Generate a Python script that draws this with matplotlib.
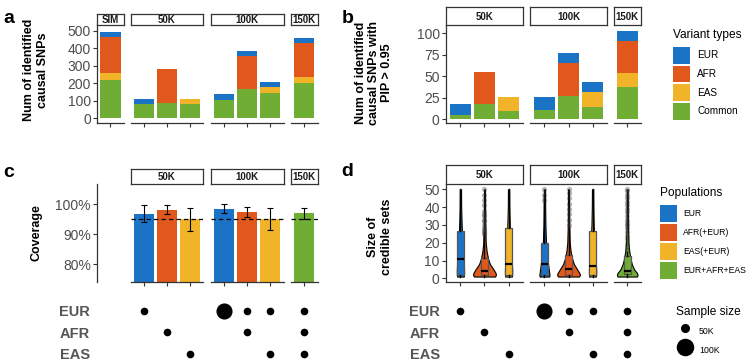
import matplotlib
matplotlib.use("Agg")
import matplotlib.pyplot as plt
from matplotlib.patches import Patch
from matplotlib.lines import Line2D
import numpy as np

plt.rcParams['font.family'] = ['Liberation Sans', 'DejaVu Sans']

W, H = 755, 362
fig = plt.figure(figsize=(W / 100, H / 100), dpi=100)

COL = {'EUR': '#1b73c6', 'AFR': '#e0581c', 'EAS': '#f1b428', 'ALL': '#70ad34'}
TXT = '#4d4d4d'
LINE = '#333333'

# ---- data ----
# a: identified causal SNPs, stacked by variant type
a_common = {'SIM': [220], '50K': [80, 90, 80], '100K': [105, 165, 145], '150K': [200]}
a_eas = {'SIM': [40], '50K': [0, 0, 30], '100K': [0, 0, 32], '150K': [35]}
a_afr = {'SIM': [205], '50K': [0, 190, 0], '100K': [0, 190, 0], '150K': [195]}
a_eur = {'SIM': [30], '50K': [30, 0, 0], '100K': [35, 30, 30], '150K': [30]}

# b: identified causal SNPs with PIP > 0.95
b_common = {'50K': [5, 18, 9], '100K': [10, 27, 14], '150K': [37]}
b_eas = {'50K': [0, 0, 17], '100K': [0, 0, 17], '150K': [17]}
b_afr = {'50K': [0, 37, 0], '100K': [0, 38, 0], '150K': [37]}
b_eur = {'50K': [13, 0, 0], '100K': [16, 12, 12], '150K': [12]}

# c: coverage (%)
pops = {'50K': ['EUR', 'AFR', 'EAS'], '100K': ['EUR', 'AFR', 'EAS'], '150K': ['ALL']}
cov_mean = {'50K': [96.6, 98.0, 95.0], '100K': [98.3, 97.4, 95.0], '150K': [97.1]}
cov_lo = {'50K': [93.9, 96.6, 91.1], '100K': [97.1, 95.8, 91.3], '150K': [95.0]}
cov_hi = {'50K': [99.7, 99.8, 98.6], '100K': [100.0, 99.1, 98.6], '150K': [98.6]}

# d: size of credible sets
cs_q1 = {'50K': [2, 2, 2], '100K': [2, 2, 2], '150K': [2.5]}
cs_med = {'50K': [11, 4, 8], '100K': [8, 5, 7], '150K': [4]}
cs_q3 = {'50K': [26.5, 11.5, 28], '100K': [20, 13, 26.5], '150K': [12.5]}
cs_whi = {'50K': [50, 26, 50], '100K': [47, 29, 50], '150K': [15]}
cs_out = {'50K': [[], [25, 26, 27, 28, 30, 32, 33, 35, 36, 38, 41, 44, 47, 50], []],
          '100K': [[44, 47, 50], [30, 33, 36, 39, 42, 45, 48, 50], []],
          '150K': [[16, 18, 20, 22, 24, 26, 28, 30, 31, 33, 35, 37, 39, 41, 43, 45, 47, 49, 50]]}
vio_y = [1, 2, 3, 5, 8, 11, 15, 20, 30, 40, 50]
vio_w = {'50K': [[0.28, 0.30, 0.30, 0.30, 0.28, 0.26, 0.22, 0.17, 0.10, 0.06, 0.05],
                 [0.88, 0.95, 0.92, 0.75, 0.45, 0.30, 0.18, 0.10, 0.06, 0.05, 0.04],
                 [0.28, 0.30, 0.30, 0.30, 0.28, 0.26, 0.22, 0.17, 0.10, 0.06, 0.05]],
         '100K': [[0.40, 0.42, 0.40, 0.36, 0.30, 0.25, 0.19, 0.13, 0.08, 0.06, 0.05],
                  [0.88, 0.95, 0.90, 0.72, 0.45, 0.30, 0.18, 0.10, 0.06, 0.05, 0.04],
                  [0.28, 0.30, 0.30, 0.30, 0.28, 0.25, 0.22, 0.16, 0.09, 0.06, 0.05]],
         '150K': [[0.85, 0.90, 0.85, 0.60, 0.40, 0.28, 0.18, 0.10, 0.06, 0.05, 0.04]]}

# sample size (K) of each population in each analysis
ss_eur = {'50K': [50, 0, 0], '100K': [100, 50, 50], '150K': [50]}
ss_afr = {'50K': [0, 50, 0], '100K': [0, 50, 0], '150K': [50]}
ss_eas = {'50K': [0, 0, 50], '100K': [0, 0, 50], '150K': [50]}
dot_ms = {50: 5.5, 100: 11.6}


def px_axes(l, r, t, b):
    return fig.add_axes([l / W, 1 - b / H, (r - l) / W, (b - t) / H])


def strip(l, r, t, b, label):
    s = px_axes(l, r, t, b)
    s.set_xticks([])
    s.set_yticks([])
    for sp in s.spines.values():
        sp.set_linewidth(0.9)
        sp.set_color(LINE)
    s.text(0.5, 0.45, label, ha='center', va='center', fontsize=7,
           fontweight='bold', color='#1a1a1a', transform=s.transAxes)


def style(ax, n, left, bottom=True):
    ax.set_xlim(0.4, n + 0.6)
    ax.set_xticks(np.arange(1, n + 1))
    ax.set_xticklabels([])
    ax.spines['top'].set_visible(False)
    ax.spines['right'].set_visible(False)
    ax.spines['left'].set_visible(left)
    ax.spines['bottom'].set_visible(bottom)
    for s in ['left', 'bottom']:
        ax.spines[s].set_color(LINE)
        ax.spines[s].set_linewidth(0.9)
    ax.tick_params(axis='x', length=3, width=0.8, color=LINE, bottom=bottom)
    ax.tick_params(axis='y', length=3, width=0.8, color=LINE, labelsize=10,
                   labelcolor=TXT, pad=1.5, left=left, labelleft=left)
    ax.patch.set_alpha(0)


def stacked(ax, f, series):
    n = len(series[0][0][f])
    xs = np.arange(1, n + 1)
    bottom = np.zeros(n)
    for vals, c in series:
        v = np.array(vals[f], dtype=float)
        ax.bar(xs, v, 0.9, bottom=bottom, color=c, linewidth=0)
        bottom += v
    return n


# ---- panel a ----
a_x = {'SIM': (97, 124), '50K': (130.5, 203.5), '100K': (210.5, 283.5), '150K': (290.5, 317.5)}
for i, f in enumerate(['SIM', '50K', '100K', '150K']):
    l, r = a_x[f]
    ax = px_axes(l, r, 25, 122.7)
    n = stacked(ax, f, [(a_common, COL['ALL']), (a_eas, COL['EAS']),
                        (a_afr, COL['AFR']), (a_eur, COL['EUR'])])
    ax.set_ylim(-25.1, 532.5)
    ax.set_yticks([0, 100, 200, 300, 400, 500])
    style(ax, n, i == 0)
    strip(l, r, 14, 25, f)

# ---- panel b ----
b_x = {'50K': (446, 523), '100K': (530, 607), '150K': (613.5, 641)}
for i, f in enumerate(['50K', '100K', '150K']):
    l, r = b_x[f]
    ax = px_axes(l, r, 25, 122.7)
    n = stacked(ax, f, [(b_common, COL['ALL']), (b_eas, COL['EAS']),
                        (b_afr, COL['AFR']), (b_eur, COL['EUR'])])
    ax.set_ylim(-4.3, 109.7)
    ax.set_yticks([0, 25, 50, 75, 100])
    style(ax, n, i == 0)
    strip(l, r, 7, 25, f)

# ---- panel c ----
c_x = {'50K': (130.5, 203.5), '100K': (210.5, 283.5), '150K': (290.5, 317.5)}
ax = px_axes(97, 124, 184, 282.3)
ax.set_ylim(73.9, 106.7)
ax.set_yticks([80, 90, 100])
ax.set_yticklabels(['80%', '90%', '100%'])
style(ax, 1, True, bottom=False)
for f in ['50K', '100K', '150K']:
    l, r = c_x[f]
    ax = px_axes(l, r, 184, 282.3)
    n = len(pops[f])
    xs = np.arange(1, n + 1)
    m = np.array(cov_mean[f])
    ax.bar(xs, m, 0.9, color=[COL[p] for p in pops[f]], linewidth=0)
    ax.axhline(95, color='black', lw=0.9, ls=(0, (3.5, 2.5)))
    ax.errorbar(xs, m, yerr=[m - np.array(cov_lo[f]), np.array(cov_hi[f]) - m],
                fmt='none', ecolor='black', elinewidth=0.8, capsize=2.5, capthick=0.8)
    ax.set_ylim(73.9, 106.7)
    style(ax, n, False)
    strip(l, r, 169.3, 184, f)

# ---- panel d ----
d_x = {'50K': (446, 523), '100K': (530, 607), '150K': (613.5, 641)}
for i, f in enumerate(['50K', '100K', '150K']):
    l, r = d_x[f]
    ax = px_axes(l, r, 184, 281.7)
    n = len(pops[f])
    for k in range(n):
        c = COL[pops[f][k]]
        w = np.array(vio_w[f][k])
        vp = ax.violin([{'coords': np.array(vio_y, dtype=float), 'vals': w,
                         'mean': cs_med[f][k], 'median': cs_med[f][k],
                         'min': vio_y[0], 'max': vio_y[-1]}],
                       positions=[k + 1], widths=w.max(),
                       showmeans=False, showextrema=False, showmedians=False)
        for body in vp['bodies']:
            body.set_facecolor(c)
            body.set_edgecolor('black')
            body.set_linewidth(0.8)
            body.set_alpha(1)
            body.set_zorder(1)
        ax.bxp([{'med': cs_med[f][k], 'q1': cs_q1[f][k], 'q3': cs_q3[f][k],
                 'whislo': 1, 'whishi': cs_whi[f][k], 'fliers': cs_out[f][k]}],
               positions=[k + 1], widths=0.32, patch_artist=True, showcaps=False,
               boxprops=dict(facecolor=c, edgecolor='#555555', linewidth=0.9),
               medianprops=dict(color='black', linewidth=1.6),
               whiskerprops=dict(color='black', linewidth=1.0),
               flierprops=dict(marker='o', markerfacecolor='#333333',
                               markeredgecolor='none', alpha=0.35, markersize=3.8),
               zorder=2)
    ax.set_ylim(-1.9, 53)
    ax.set_yticks([0, 10, 20, 30, 40, 50])
    style(ax, n, i == 0)
    strip(l, r, 165, 184, f)


# ---- sample-size dot matrix under c and d ----
def dots(l, r, f, labels=False, pad=4):
    ax = px_axes(l, r, 300, 362)
    n = len(ss_eur[f]) if f else 1
    ax.set_xlim(0.4, n + 0.6)
    ax.set_ylim(2.37, -0.494)
    if f:
        for row, ss in enumerate([ss_eur, ss_afr, ss_eas]):
            for k, v in enumerate(ss[f]):
                if v:
                    ax.scatter([k + 1], [row], s=dot_ms[v] ** 2, color='black',
                               linewidths=0)
    for s in ax.spines.values():
        s.set_visible(False)
    ax.set_xticks([])
    ax.set_yticks([0, 1, 2])
    ax.tick_params(axis='y', length=0, pad=pad, labelsize=10.5, labelcolor='#555555',
                   labelleft=labels)
    ax.set_yticklabels(['EUR', 'AFR', 'EAS'], fontweight='bold')
    ax.patch.set_alpha(0)


dots(97, 124, None, labels=True, pad=5)
for f in ['50K', '100K', '150K']:
    dots(*c_x[f], f)
for i, f in enumerate(['50K', '100K', '150K']):
    dots(*d_x[f], f, labels=(i == 0), pad=4.3)

# ---- text ----
for lab, x, y in [('a', 3.3, 22.7), ('b', 341.7, 22.7), ('c', 3.3, 176.7), ('d', 341.7, 176)]:
    fig.text(x / W, 1 - y / H, lab, fontsize=14, fontweight='bold', va='baseline')

ylab = dict(rotation=90, ha='center', va='center', fontsize=9, fontweight='bold',
            linespacing=1.15, multialignment='center')
fig.text(36 / W, 1 - 70 / H, 'Num of identified\ncausal SNPs', **ylab)
fig.text(374 / W, 1 - 73 / H, 'Num of identified\ncausal SNPs with\nPIP > 0.95', **ylab)
fig.text(36.7 / W, 1 - 233 / H, 'Coverage', **ylab)
fig.text(380 / W, 1 - 237 / H, 'Size of\ncredible sets', **ylab)

# ---- legends ----
fig.text(673 / W, 1 - 35 / H, 'Variant types', fontsize=8.6, va='center')
leg1 = fig.legend([Patch(facecolor=COL[k], linewidth=0) for k in ['EUR', 'AFR', 'EAS', 'ALL']],
                  ['EUR', 'AFR', 'EAS', 'Common'], loc='upper left',
                  bbox_to_anchor=(673 / W, 1 - 47 / H), frameon=False, fontsize=7.2,
                  handlelength=1.7, handleheight=2.2, labelspacing=0.19,
                  handletextpad=0.7, borderpad=0, borderaxespad=0)

fig.text(660 / W, 1 - 193 / H, 'Populations', fontsize=8.6, va='center')
leg2 = fig.legend([Patch(facecolor=COL[k], linewidth=0) for k in ['EUR', 'AFR', 'EAS', 'ALL']],
                  ['EUR', 'AFR(+EUR)', 'EAS(+EUR)', 'EUR+AFR+EAS'], loc='upper left',
                  bbox_to_anchor=(660 / W, 1 - 205 / H), frameon=False, fontsize=6.2,
                  handlelength=1.97, handleheight=2.65, labelspacing=0.23,
                  handletextpad=0.7, borderpad=0, borderaxespad=0)

fig.text(676 / W, 1 - 312 / H, 'Sample size', fontsize=8.6, va='center')
leg3 = fig.legend([Line2D([], [], ls='none', marker='o', color='black', markersize=dot_ms[k])
                   for k in [50, 100]],
                  ['50K', '100K'], loc='upper left',
                  bbox_to_anchor=(676 / W, 1 - 322.5 / H), frameon=False, fontsize=6.3,
                  handlelength=2.06, handleheight=2.61, labelspacing=0.23,
                  handletextpad=0.57, borderpad=0, borderaxespad=0)

fig.savefig('out.png', dpi=100)
